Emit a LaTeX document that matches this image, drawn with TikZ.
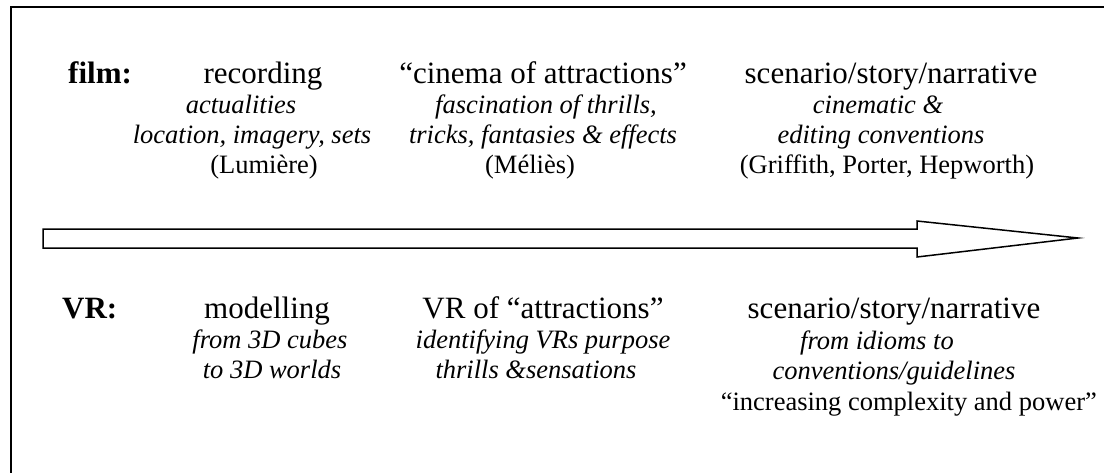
\documentclass[tikz,border=0pt]{standalone}
\usepackage{fontspec}
\setmainfont{Liberation Serif}
\begin{document}
\begin{tikzpicture}[x=1pt,y=1pt,
  txt/.style={anchor=base,inner sep=0pt},
  big/.style={txt,font=\fontsize{31}{36}\selectfont},
  bold/.style={txt,font=\fontsize{31}{36}\selectfont\bfseries},
  ital/.style={txt,font=\fontsize{26.5}{30}\selectfont\itshape},
  par/.style={txt,font=\fontsize{26.5}{30}\selectfont},
  frame/.style={line width=2pt},
  bigarrow/.style={line width=1.5pt,line join=miter}]
\useasboundingbox (0,0) rectangle (1104,-472);
% frame (only left and top edges visible)
\draw[frame] (11,-473) -- (11,-7) -- (1105,-7);
% film row
\node[bold,anchor=base west] (film) at (68,-83) {film:};
\node[big]  (rec)   at (263,-83)  {recording};
\node[ital] (act)   at (241,-113) {actualities};
\node[ital] (loc)   at (252,-143) {location, imagery, sets};
\node[par]  (lum)   at (264,-173) {(Lumière)};
\node[big]  (cine)  at (543,-83)  {“cinema of attractions”};
\node[ital] (fasc)  at (546,-113) {fascination of thrills,};
\node[ital] (trick) at (543,-143) {tricks, fantasies \& effects};
\node[par]  (mel)   at (530,-173) {(Méliès)};
\node[big]  (scen)  at (891,-83)  {scenario/story/narrative};
\node[ital] (cinem) at (878,-113) {cinematic \&};
\node[ital] (edit)  at (881,-143) {editing conventions};
\node[par]  (grif)  at (887,-173) {(Griffith, Porter, Hepworth)};
% arrow
\draw[bigarrow] (43,-229) -- (917,-229) -- (917,-221) -- (1078,-238)
  -- (917,-257) -- (917,-248) -- (43,-248) -- cycle;
% VR row
\node[bold,anchor=base west] (vr) at (62,-318) {VR:};
\node[big]  (mod)   at (267,-318) {modelling};
\node[ital] (cube)  at (270,-348) {from 3D cubes};
\node[ital] (world) at (272,-378) {to 3D worlds};
\node[big]  (vratt) at (543,-318) {VR of “attractions”};
\node[ital] (ident) at (543,-348) {identifying VRs purpose};
\node[ital] (thr)   at (536,-378) {thrills \&sensations};
\node[big]  (scen2) at (894,-318) {scenario/story/narrative};
\node[ital] (idiom) at (877,-349) {from idioms to};
\node[ital] (conv)  at (894,-379) {conventions/guidelines};
\node[par,anchor=base east] (incr) at (1097,-410) {“increasing complexity and power”};
\end{tikzpicture}
\end{document}
